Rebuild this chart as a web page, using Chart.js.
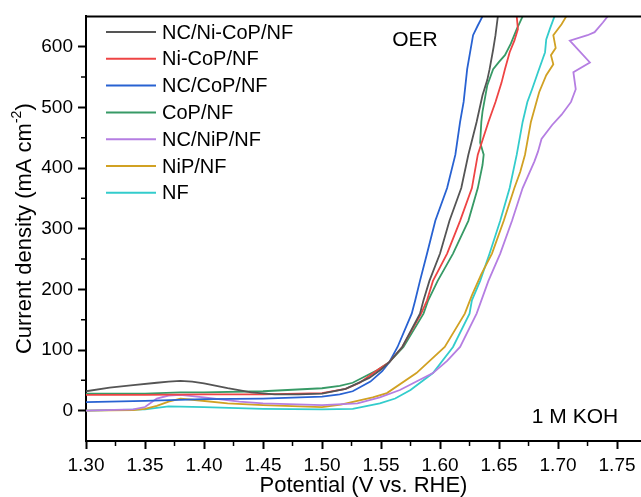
<!DOCTYPE html>
<html>
<head>
<meta charset="utf-8">
<title>OER polarization curves</title>
<script src="https://cdn.jsdelivr.net/npm/chart.js@4.4.1/dist/chart.umd.min.js"></script>
<style>
  body { margin: 0; background: #fff; }
  #wrap { width: 641px; height: 497px; }
</style>
</head>
<body>
<div id="wrap"><canvas id="lsvChart" width="641" height="497"></canvas></div>
<script>
// Sample names, in legend order
const seriesNames = ['NC/Ni-CoP/NF', 'Ni-CoP/NF', 'NC/CoP/NF', 'CoP/NF', 'NC/NiP/NF', 'NiP/NF', 'NF'];

// Potential (V vs. RHE) and current density (mA cm-2)
const ncNiCoP_V = [1.30, 1.32, 1.34, 1.36, 1.37, 1.38, 1.39, 1.40, 1.42, 1.44, 1.46, 1.48, 1.50, 1.52, 1.54, 1.55, 1.557, 1.568, 1.583, 1.586, 1.591, 1.600, 1.608, 1.618, 1.624, 1.631, 1.636, 1.640, 1.642, 1.645, 1.647, 1.649];
const ncNiCoP_J = [32, 38, 42, 46, 48, 49, 48, 45, 37, 30, 27, 27, 28, 36, 54, 68, 80, 105, 160, 182, 214, 259, 313, 367, 422, 476, 520, 545, 563, 595, 619, 650];

const niCoP_V = [1.30, 1.35, 1.40, 1.45, 1.50, 1.52, 1.532, 1.547, 1.557, 1.568, 1.584, 1.589, 1.594, 1.606, 1.617, 1.627, 1.632, 1.641, 1.647, 1.652, 1.655, 1.659, 1.663, 1.666, 1.665];
const niCoP_J = [26, 26, 27, 27, 29, 36, 46, 67, 80, 105, 160, 182, 214, 259, 313, 367, 422, 476, 509, 540, 563, 591, 610, 629, 650];

const ncCoP_V = [1.30, 1.35, 1.40, 1.45, 1.50, 1.515, 1.526, 1.541, 1.551, 1.557, 1.564, 1.576, 1.579, 1.583, 1.589, 1.596, 1.606, 1.613, 1.617, 1.620, 1.623, 1.628, 1.632, 1.636];
const ncCoP_J = [14, 16, 19, 20, 23, 27, 32, 48, 65, 80, 105, 160, 182, 214, 259, 313, 367, 422, 476, 509, 563, 619, 635, 650];

const coP_V = [1.30, 1.35, 1.38, 1.40, 1.45, 1.50, 1.515, 1.526, 1.547, 1.557, 1.569, 1.586, 1.590, 1.598, 1.611, 1.624, 1.632, 1.636, 1.637, 1.634, 1.635, 1.636, 1.640, 1.645, 1.650, 1.655, 1.660, 1.665, 1.670];
const coP_J = [28, 28, 30, 30, 32, 37, 41, 46, 67, 80, 105, 160, 182, 214, 259, 313, 367, 405, 422, 442, 476, 493, 536, 563, 575, 586, 605, 629, 650];

const ncNiP_V = [1.30, 1.34, 1.35, 1.36, 1.37, 1.38, 1.40, 1.43, 1.45, 1.50, 1.53, 1.549, 1.566, 1.580, 1.594, 1.606, 1.617, 1.631, 1.641, 1.651, 1.661, 1.670, 1.680, 1.683, 1.686, 1.695, 1.703, 1.711, 1.715, 1.713, 1.727, 1.710, 1.725, 1.731, 1.738, 1.742];
const ncNiP_J = [0, 2, 6, 20, 25, 26, 22, 15, 12, 9, 12, 22, 34, 48, 62, 82, 105, 160, 214, 259, 313, 367, 411, 427, 448, 471, 488, 509, 530, 558, 574, 610, 619, 624, 640, 650];

const niP_V = [1.30, 1.34, 1.35, 1.36, 1.37, 1.38, 1.39, 1.42, 1.45, 1.50, 1.516, 1.543, 1.555, 1.580, 1.604, 1.621, 1.627, 1.635, 1.644, 1.654, 1.663, 1.668, 1.672, 1.677, 1.681, 1.684, 1.690, 1.696, 1.694, 1.698, 1.696, 1.703, 1.707];
const niP_J = [0, 1, 3, 8, 15, 20, 18, 12, 9, 6, 10, 22, 29, 62, 105, 160, 190, 225, 259, 313, 367, 394, 422, 476, 504, 525, 553, 571, 586, 598, 619, 637, 650];

const nf_V = [1.30, 1.35, 1.37, 1.40, 1.45, 1.50, 1.526, 1.549, 1.562, 1.575, 1.594, 1.611, 1.625, 1.627, 1.634, 1.642, 1.651, 1.659, 1.665, 1.670, 1.674, 1.678, 1.683, 1.689, 1.690, 1.693, 1.697];
const nf_J = [0, 2, 7, 6, 3, 2, 3, 12, 20, 34, 62, 105, 160, 182, 214, 259, 313, 367, 422, 476, 509, 530, 558, 591, 612, 629, 650];

// Axis ticks
const xTicks = [1.30, 1.35, 1.40, 1.45, 1.50, 1.55, 1.60, 1.65, 1.70, 1.75];
const xMinorTicks = [1.325, 1.375, 1.425, 1.475, 1.525, 1.575, 1.625, 1.675, 1.725];
const yTicks = [0, 100, 200, 300, 400, 500, 600];
const yMinorTicks = [50, 150, 250, 350, 450, 550];

const lineColors = ['#555555', '#ee4444', '#2862d2', '#379a66', '#b57ee2', '#d1a123', '#33cccc'];

const allV = [ncNiCoP_V, niCoP_V, ncCoP_V, coP_V, ncNiP_V, niP_V, nf_V];
const allJ = [ncNiCoP_J, niCoP_J, ncCoP_J, coP_J, ncNiP_J, niP_J, nf_J];

const FONT = "'Liberation Sans', Arial, sans-serif";

// Draws the top frame, minor ticks, legend, labels and axis titles
const decorPlugin = {
    id: 'decor',
    afterDraw(chart) {
        const ctx = chart.ctx;
        const area = chart.chartArea;
        const x = chart.scales.x;
        const y = chart.scales.y;
        ctx.save();

        // top frame line
        ctx.strokeStyle = '#000';
        ctx.lineWidth = 2;
        ctx.beginPath();
        ctx.moveTo(area.left - 1, area.top);
        ctx.lineTo(chart.width, area.top);
        ctx.stroke();

        // minor ticks
        ctx.lineWidth = 1.5;
        ctx.beginPath();
        xMinorTicks.forEach(v => {
            const px = x.getPixelForValue(v);
            ctx.moveTo(px, area.bottom);
            ctx.lineTo(px, area.bottom + 5);
        });
        yMinorTicks.forEach(v => {
            const py = y.getPixelForValue(v);
            ctx.moveTo(area.left, py);
            ctx.lineTo(area.left - 5, py);
        });
        ctx.stroke();

        // legend
        ctx.font = '20px ' + FONT;
        ctx.textBaseline = 'middle';
        ctx.textAlign = 'left';
        seriesNames.forEach((name, i) => {
            const rowY = 32 + i * 26.8;
            ctx.strokeStyle = lineColors[i];
            ctx.lineWidth = 2;
            ctx.beginPath();
            ctx.moveTo(106, rowY);
            ctx.lineTo(156, rowY);
            ctx.stroke();
            ctx.fillStyle = '#000';
            ctx.fillText(name, 162, rowY + 1);
        });

        // annotations
        ctx.font = '21px ' + FONT;
        ctx.textAlign = 'center';
        ctx.fillText('OER', 415, 40);
        ctx.fillText('1 M KOH', 575, 417);

        // x axis title
        ctx.font = '22px ' + FONT;
        ctx.fillText('Potential (V vs. RHE)', (area.left + area.right) / 2, 486);

        // y axis title with superscript
        ctx.translate(25, (area.top + area.bottom) / 2);
        ctx.rotate(-Math.PI / 2);
        const main = 'Current density (mA cm';
        const sup = '-2';
        const close = ')';
        ctx.font = '22px ' + FONT;
        const w1 = ctx.measureText(main).width;
        const w3 = ctx.measureText(close).width;
        ctx.font = '14px ' + FONT;
        const w2 = ctx.measureText(sup).width;
        let start = -(w1 + w2 + w3) / 2;
        ctx.textAlign = 'left';
        ctx.font = '22px ' + FONT;
        ctx.fillText(main, start, 0);
        ctx.font = '14px ' + FONT;
        ctx.fillText(sup, start + w1, -8);
        ctx.font = '22px ' + FONT;
        ctx.fillText(close, start + w1 + w2, 0);

        ctx.restore();
    }
};

const datasets = seriesNames.map((name, i) => ({
    label: name,
    data: allV[i].map((v, k) => ({ x: v, y: allJ[i][k] })),
    borderColor: lineColors[i],
    borderWidth: 1.8,
    pointRadius: 0,
    tension: 0,
    fill: false
}));

const ctx = document.getElementById('lsvChart').getContext('2d');
new Chart(ctx, {
    type: 'line',
    data: { datasets: datasets },
    plugins: [decorPlugin],
    options: {
        responsive: false,
        devicePixelRatio: 1,
        animation: false,
        layout: { padding: { top: 14, right: 0, left: 0, bottom: 0 } },
        plugins: {
            legend: { display: false },
            tooltip: { enabled: false }
        },
        scales: {
            x: {
                type: 'linear',
                min: 1.30,
                max: 1.7703,
                afterBuildTicks: scale => { scale.ticks = xTicks.map(v => ({ value: v })); },
                afterFit: scale => { scale.height = 56; },
                ticks: {
                    callback: v => v.toFixed(2),
                    font: { family: FONT, size: 19 },
                    color: '#000',
                    padding: 5,
                    maxRotation: 0
                },
                grid: { drawOnChartArea: false, drawTicks: true, tickLength: 8, tickWidth: 2, tickColor: '#000' },
                border: { display: true, color: '#000', width: 2 }
            },
            y: {
                type: 'linear',
                min: -50,
                max: 650,
                afterBuildTicks: scale => { scale.ticks = yTicks.map(v => ({ value: v })); },
                afterFit: scale => { scale.width = 86; },
                ticks: {
                    font: { family: FONT, size: 19 },
                    color: '#000',
                    padding: 5
                },
                grid: { drawOnChartArea: false, drawTicks: true, tickLength: 8, tickWidth: 2, tickColor: '#000' },
                border: { display: true, color: '#000', width: 2 }
            }
        }
    }
});
</script>
</body>
</html>
